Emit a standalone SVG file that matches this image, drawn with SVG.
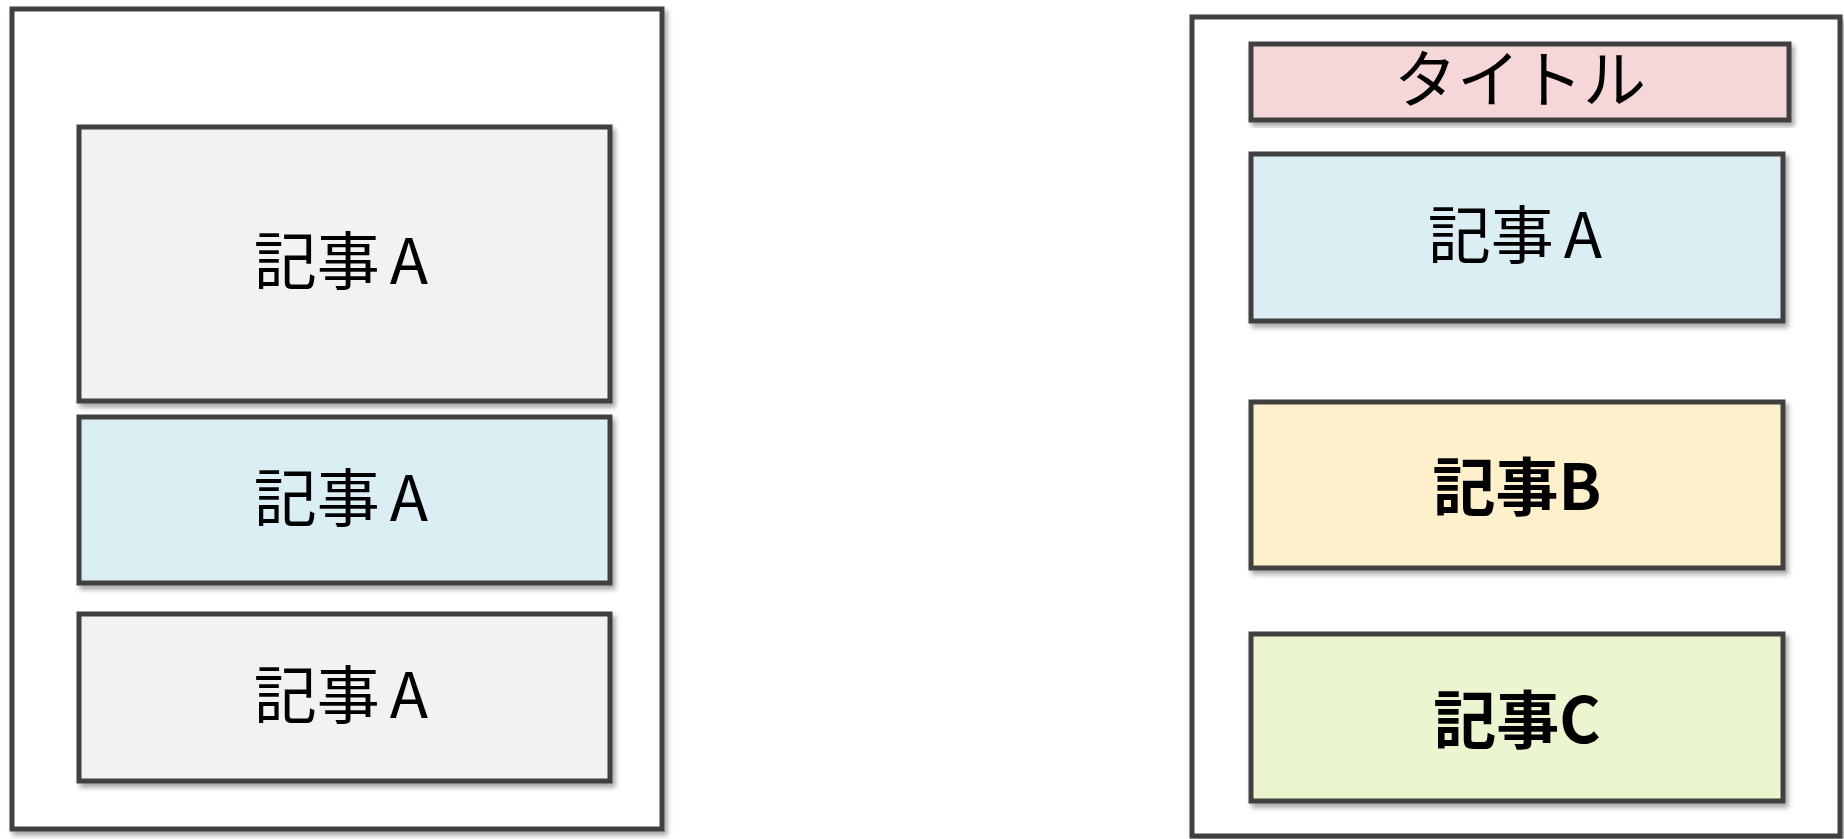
<svg xmlns="http://www.w3.org/2000/svg" width="1844" height="839" viewBox="0 0 1844 839">
<defs>
<filter id="sh" x="-5%" y="-5%" width="110%" height="115%">
<feDropShadow dx="3" dy="4" stdDeviation="2.5" flood-color="#000" flood-opacity="0.35"/>
</filter>
</defs>
<style>
.box{stroke:#404040;stroke-width:5;filter:url(#sh)}
.frame{fill:#fff}
.gray{fill:#f2f2f2}
.blue{fill:#daeef4}
.pink{fill:#f6d7d9}
.yellow{fill:#fff0cc}
.green{fill:#ebf5d0}
.t{font-family:"Noto Sans CJK JP","Noto Sans",sans-serif;font-size:63px;text-anchor:middle;dominant-baseline:central;fill:#000}
.b{font-weight:bold}
</style>
<rect width="1844" height="839" fill="#fff"/>
<g id="left-frame"><rect class="box frame" x="12" y="9" width="650" height="820"/></g>
<g id="left-a1"><rect class="box gray" x="79" y="127" width="531" height="274"/><text class="t" x="341" y="256">記事<tspan dx="10">A</tspan></text></g>
<g id="left-a2"><rect class="box blue" x="79" y="417" width="531" height="166"/><text class="t" x="341" y="493">記事<tspan dx="10">A</tspan></text></g>
<g id="left-a3"><rect class="box gray" x="79" y="614" width="531" height="167"/><text class="t" x="341" y="690">記事<tspan dx="10">A</tspan></text></g>
<g id="right-frame"><rect class="box frame" x="1192" y="17" width="648" height="819"/></g>
<g id="title"><rect class="box pink" x="1251" y="44" width="538" height="76"/><text class="t" x="1520" y="74">タイトル</text></g>
<g id="right-a"><rect class="box blue" x="1251" y="154" width="532" height="167"/><text class="t" x="1515" y="230">記事<tspan dx="10">A</tspan></text></g>
<g id="right-b"><rect class="box yellow" x="1251" y="402" width="532" height="166"/><text class="t b" x="1517" y="482">記事B</text></g>
<g id="right-c"><rect class="box green" x="1251" y="634" width="532" height="167"/><text class="t b" x="1517" y="715">記事C</text></g>
<g id="connectors"/>
</svg>
